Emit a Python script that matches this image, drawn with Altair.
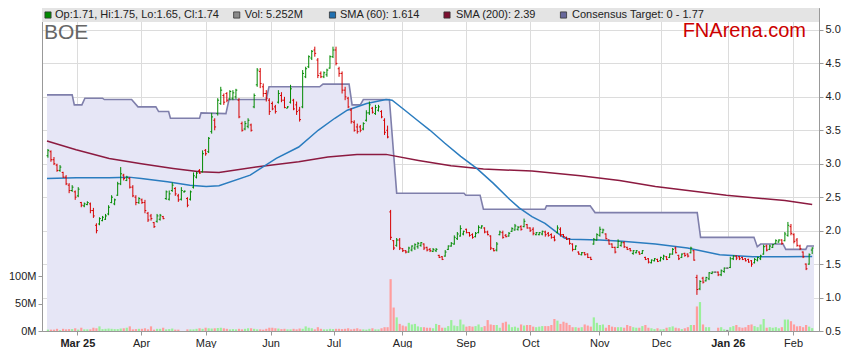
import altair as alt
import pandas as pd

# ---------------- data ----------------
OPEN = [
3.12, 3.18, 3.06, 2.98, 2.90, 2.87, 2.80, 2.68, 2.60, 2.58,
2.52, 2.42, 2.37, 2.39, 2.40, 2.30, 2.08, 2.10, 2.15, 2.17,
2.25, 2.42, 2.40, 2.53, 2.70, 2.83, 2.75, 2.78, 2.65, 2.50,
2.42, 2.46, 2.42, 2.26, 2.22, 2.12, 2.14, 2.17, 2.21, 2.48,
2.47, 2.60, 2.63, 2.52, 2.47, 2.58, 2.48, 2.47, 2.65, 2.80,
2.90, 2.88, 3.20, 3.18, 3.48, 3.65, 3.75, 3.90, 4.02, 4.05,
3.97, 3.98, 4.00, 3.95, 3.60, 3.52, 3.56, 3.58, 3.85, 4.18,
4.38, 4.15, 4.05, 3.95, 3.90, 3.85, 3.92, 4.02, 3.95, 3.83,
3.92, 3.95, 3.88, 3.80, 3.85, 4.30, 4.45, 4.58, 4.70, 4.55,
4.35, 4.30, 4.33, 4.43, 4.60, 4.70, 4.42, 4.35, 4.10, 3.98,
3.80, 3.62, 3.55, 3.55, 3.52, 3.65, 3.76, 3.83, 3.75, 3.80,
3.78, 3.65, 3.50, 2.28, 1.85, 1.78, 1.86, 1.73, 1.70, 1.68,
1.71, 1.74, 1.76, 1.78, 1.80, 1.75, 1.72, 1.69, 1.70, 1.63,
1.61, 1.62, 1.72, 1.77, 1.80, 1.88, 1.92, 1.95, 2.02, 1.97,
1.94, 1.91, 1.97, 2.04, 2.04, 1.98, 1.92, 1.73, 1.71, 1.94,
1.97, 1.93, 1.92, 1.99, 2.01, 2.02, 2.06, 2.06, 2.09, 2.04,
2.02, 1.94, 1.94, 1.95, 1.98, 1.96, 1.94, 1.90, 1.97, 2.02,
1.94, 1.90, 1.88, 1.80, 1.72, 1.68, 1.64, 1.67, 1.65, 1.60,
1.80, 1.86, 1.93, 1.97, 1.95, 1.86, 1.80, 1.75, 1.75, 1.78,
1.82, 1.75, 1.73, 1.66, 1.67, 1.68, 1.66, 1.60, 1.58, 1.52,
1.55, 1.57, 1.55, 1.58, 1.61, 1.60, 1.65, 1.74, 1.63, 1.60,
1.66, 1.65, 1.67, 1.70, 1.30, 1.13, 1.29, 1.25, 1.28, 1.36,
1.38, 1.38, 1.34, 1.39, 1.44, 1.45, 1.58, 1.62, 1.61, 1.60,
1.58, 1.57, 1.55, 1.52, 1.56, 1.58, 1.65, 1.77, 1.72, 1.75,
1.81, 1.83, 1.86, 1.85, 1.93, 2.06, 1.94, 1.86, 1.77, 1.68,
1.50, 1.50, 1.71]

HIGH = [
3.22, 3.20, 3.10, 3.00, 2.98, 2.88, 2.83, 2.71, 2.68, 2.60,
2.65, 2.43, 2.42, 2.44, 2.42, 2.34, 2.11, 2.20, 2.22, 2.25,
2.38, 2.53, 2.48, 2.73, 2.95, 2.85, 2.82, 2.80, 2.68, 2.53,
2.50, 2.48, 2.46, 2.28, 2.25, 2.13, 2.25, 2.25, 2.22, 2.60,
2.60, 2.72, 2.65, 2.55, 2.65, 2.60, 2.50, 2.60, 2.87, 2.88,
2.92, 3.20, 3.22, 3.40, 3.76, 3.68, 3.98, 4.15, 4.05, 4.07,
4.10, 4.10, 4.12, 3.98, 3.63, 3.64, 3.68, 3.60, 4.05, 4.43,
4.43, 4.20, 4.10, 3.98, 3.93, 3.88, 4.10, 4.07, 4.00, 3.86,
4.18, 3.97, 3.93, 3.85, 4.40, 4.45, 4.62, 4.70, 4.75, 4.58,
4.38, 4.38, 4.42, 4.62, 4.75, 4.75, 4.45, 4.38, 4.15, 4.00,
3.83, 3.65, 3.60, 3.58, 3.62, 3.80, 3.93, 3.85, 3.88, 3.88,
3.80, 3.68, 3.57, 2.31, 1.86, 1.89, 1.89, 1.74, 1.71, 1.76,
1.78, 1.81, 1.83, 1.83, 1.81, 1.76, 1.74, 1.74, 1.74, 1.64,
1.62, 1.71, 1.78, 1.83, 1.93, 1.98, 2.08, 2.00, 2.03, 1.98,
1.96, 1.98, 2.08, 2.08, 2.05, 2.00, 1.93, 1.74, 1.83, 2.00,
2.00, 1.95, 1.98, 2.05, 2.10, 2.07, 2.08, 2.18, 2.10, 2.05,
2.05, 1.98, 1.98, 2.00, 2.00, 1.98, 1.96, 1.93, 2.08, 2.05,
1.95, 1.91, 1.89, 1.81, 1.78, 1.69, 1.68, 1.68, 1.66, 1.61,
1.89, 1.96, 2.06, 2.03, 1.96, 1.87, 1.81, 1.76, 1.87, 1.84,
1.84, 1.76, 1.74, 1.71, 1.71, 1.69, 1.71, 1.61, 1.59, 1.57,
1.59, 1.58, 1.61, 1.64, 1.62, 1.66, 1.74, 1.76, 1.64, 1.66,
1.67, 1.66, 1.76, 1.71, 1.34, 1.26, 1.31, 1.31, 1.38, 1.39,
1.39, 1.39, 1.42, 1.45, 1.45, 1.61, 1.63, 1.63, 1.62, 1.61,
1.59, 1.58, 1.56, 1.59, 1.61, 1.64, 1.79, 1.79, 1.79, 1.80,
1.87, 1.87, 1.87, 1.98, 2.13, 2.10, 1.96, 1.89, 1.79, 1.69,
1.51, 1.66, 1.75]

LOW = [
3.09, 3.03, 2.98, 2.88, 2.88, 2.79, 2.68, 2.56, 2.58, 2.46,
2.50, 2.35, 2.35, 2.38, 2.26, 2.19, 1.96, 2.08, 2.14, 2.16,
2.23, 2.41, 2.38, 2.52, 2.68, 2.75, 2.74, 2.63, 2.50, 2.38,
2.40, 2.40, 2.26, 2.13, 2.15, 2.04, 2.12, 2.15, 2.17, 2.46,
2.45, 2.58, 2.52, 2.43, 2.45, 2.57, 2.35, 2.45, 2.63, 2.78,
2.85, 2.87, 3.12, 3.16, 3.45, 3.50, 3.72, 3.88, 3.88, 3.92,
3.95, 3.95, 3.97, 3.68, 3.48, 3.50, 3.53, 3.48, 3.83, 4.15,
4.13, 4.00, 3.93, 3.73, 3.80, 3.75, 3.90, 3.92, 3.83, 3.83,
3.90, 3.80, 3.73, 3.63, 3.83, 4.28, 4.43, 4.55, 4.60, 4.28,
4.28, 4.28, 4.30, 4.42, 4.58, 4.47, 4.30, 4.05, 3.95, 3.83,
3.60, 3.48, 3.45, 3.47, 3.50, 3.63, 3.73, 3.75, 3.73, 3.78,
3.68, 3.43, 3.38, 1.86, 1.71, 1.76, 1.71, 1.68, 1.66, 1.67,
1.69, 1.71, 1.73, 1.76, 1.71, 1.69, 1.68, 1.68, 1.68, 1.59,
1.56, 1.61, 1.71, 1.76, 1.79, 1.86, 1.91, 1.93, 1.96, 1.91,
1.88, 1.90, 1.96, 2.03, 1.96, 1.93, 1.71, 1.69, 1.69, 1.93,
1.88, 1.90, 1.91, 1.98, 2.00, 2.00, 2.00, 2.05, 2.03, 1.98,
1.93, 1.93, 1.93, 1.93, 1.91, 1.91, 1.88, 1.84, 1.96, 1.91,
1.90, 1.86, 1.79, 1.69, 1.71, 1.64, 1.63, 1.63, 1.59, 1.56,
1.79, 1.85, 1.91, 1.96, 1.87, 1.79, 1.74, 1.66, 1.74, 1.76,
1.74, 1.71, 1.69, 1.64, 1.66, 1.64, 1.65, 1.56, 1.51, 1.51,
1.54, 1.53, 1.54, 1.56, 1.56, 1.59, 1.64, 1.66, 1.56, 1.59,
1.61, 1.60, 1.66, 1.55, 1.04, 1.11, 1.21, 1.24, 1.26, 1.35,
1.37, 1.32, 1.32, 1.37, 1.43, 1.44, 1.56, 1.56, 1.56, 1.56,
1.54, 1.52, 1.46, 1.51, 1.54, 1.56, 1.64, 1.69, 1.71, 1.74,
1.80, 1.82, 1.79, 1.84, 1.91, 1.93, 1.81, 1.76, 1.71, 1.59,
1.41, 1.49, 1.65]

CLOSE = [
3.20, 3.06, 3.00, 2.90, 2.95, 2.80, 2.70, 2.60, 2.65, 2.50,
2.62, 2.38, 2.40, 2.42, 2.30, 2.22, 2.00, 2.18, 2.20, 2.22,
2.35, 2.50, 2.46, 2.70, 2.85, 2.78, 2.80, 2.65, 2.52, 2.42,
2.48, 2.42, 2.30, 2.16, 2.18, 2.06, 2.22, 2.23, 2.18, 2.58,
2.55, 2.68, 2.55, 2.46, 2.60, 2.59, 2.38, 2.58, 2.82, 2.86,
2.86, 3.15, 3.15, 3.38, 3.70, 3.55, 3.95, 4.10, 3.92, 3.95,
4.08, 4.06, 4.10, 3.70, 3.50, 3.60, 3.65, 3.50, 4.02, 4.40,
4.20, 4.05, 3.98, 3.78, 3.82, 3.78, 4.05, 3.95, 3.84, 3.85,
4.12, 3.82, 3.78, 3.66, 4.35, 4.42, 4.60, 4.68, 4.65, 4.32,
4.30, 4.36, 4.40, 4.60, 4.70, 4.50, 4.35, 4.10, 4.00, 3.85,
3.63, 3.50, 3.48, 3.50, 3.60, 3.76, 3.88, 3.77, 3.84, 3.85,
3.70, 3.47, 3.40, 1.90, 1.74, 1.86, 1.74, 1.70, 1.68, 1.74,
1.77, 1.79, 1.81, 1.82, 1.74, 1.71, 1.70, 1.72, 1.72, 1.60,
1.57, 1.68, 1.77, 1.81, 1.90, 1.95, 2.03, 1.99, 1.97, 1.93,
1.90, 1.96, 2.05, 2.07, 1.98, 1.94, 1.74, 1.70, 1.80, 1.98,
1.90, 1.91, 1.96, 2.03, 2.07, 2.05, 2.02, 2.14, 2.04, 2.00,
1.96, 1.97, 1.97, 1.99, 1.94, 1.93, 1.90, 1.86, 2.04, 1.94,
1.91, 1.87, 1.81, 1.72, 1.77, 1.65, 1.67, 1.64, 1.60, 1.57,
1.87, 1.94, 2.02, 2.01, 1.88, 1.80, 1.75, 1.68, 1.84, 1.82,
1.76, 1.72, 1.70, 1.70, 1.70, 1.65, 1.70, 1.57, 1.53, 1.56,
1.58, 1.54, 1.60, 1.62, 1.57, 1.65, 1.72, 1.67, 1.58, 1.65,
1.63, 1.62, 1.74, 1.56, 1.12, 1.24, 1.23, 1.30, 1.37, 1.38,
1.38, 1.34, 1.40, 1.44, 1.44, 1.58, 1.62, 1.59, 1.58, 1.57,
1.55, 1.53, 1.50, 1.57, 1.60, 1.62, 1.76, 1.71, 1.77, 1.79,
1.85, 1.86, 1.81, 1.95, 2.08, 1.96, 1.84, 1.78, 1.73, 1.61,
1.43, 1.64, 1.74]

VOLUME_M = [
2.5, 2.5, 2.5, 4, 1.5, 4, 3, 3.5, 3.5, 5,
2.5, 6, 3, 3, 3, 6, 5, 8.5, 3.5, 4,
4.5, 4, 3.5, 3.5, 4.5, 5, 6, 8.5, 3, 3.5,
4, 4, 5, 3, 8.5, 2.5, 4, 4, 6, 3,
3.5, 4.5, 2.5, 2.5, 0, 0, 3, 3, 3, 4,
5, 4, 6, 5, 4.5, 5, 5.5, 6, 5, 4,
3, 3.5, 3, 4, 3, 4, 5, 5, 4, 3,
3, 2.5, 4, 6, 6, 5, 4.5, 3.5, 4, 3,
3, 4, 3, 4.5, 4, 8.5, 6, 5, 3, 7,
4, 3, 3, 4, 3.5, 4, 4, 3.5, 4, 5,
3, 4, 5, 3, 3, 2.5, 4, 5, 3, 3,
5, 7, 7, 95, 43, 25, 13, 10, 8.5, 15,
12, 13, 8.5, 7, 7, 6, 6, 5, 13, 11,
6, 6, 9, 20, 10, 9, 21, 12, 8, 9,
8, 9, 12, 7, 9, 20, 12, 11, 11, 6,
15, 17, 12, 7, 8, 6, 12, 10, 11, 11,
8, 7, 8, 9, 9, 9, 11, 22, 19, 13,
17, 15, 11, 7, 7, 6, 7, 12, 10, 8,
25, 15, 11, 12, 6, 11, 8, 7, 7, 7,
6, 11, 9, 7, 6, 6, 9, 11, 6, 5,
3.5, 5, 3, 3.5, 6, 7, 8.5, 6, 5, 3.5,
5, 7, 11, 11, 45, 53, 12, 7, 7, 0,
0, 6, 7, 3, 2, 7, 9, 11, 7, 6,
7, 11, 12, 9, 7, 12, 22, 6, 7, 6,
7, 5, 7, 21, 21, 18, 12, 8.5, 9, 7,
11, 8, 5.252]

SMA60_IDX = [-0.3, 9.3, 20.2, 26.6, 30.8, 39.4, 46.8, 52.2, 56.4, 66.7, 75.3, 82.7,
             89.1, 94.6, 98.7, 105.1, 111.5, 113.5, 117.7, 121.8, 126.0, 130.8, 136.1,
             141.4, 146.8, 152.2, 155.4, 159.6, 163.9, 168.2, 170.3, 172.4, 182.0,
             189.4, 200.3, 210.9, 221.5, 232.4, 243.0, 252.0]
SMA60_VAL = [2.78, 2.79, 2.79, 2.80, 2.78, 2.73, 2.68, 2.66, 2.67, 2.83, 3.08, 3.25,
             3.50, 3.68, 3.80, 3.90, 3.96, 3.95, 3.80, 3.65, 3.50, 3.31, 3.11,
             2.93, 2.71, 2.47, 2.34, 2.21, 2.11, 1.96, 1.89, 1.87, 1.86,
             1.84, 1.80, 1.74, 1.64, 1.61, 1.61, 1.614]

SMA200_IDX = [-0.3, 9.3, 20.2, 30.8, 41.3, 50.0, 56.4, 69.9, 82.7, 92.3, 101.9, 111.5,
              122.2, 132.9, 143.6, 159.6, 175.6, 188.5, 200.3, 223.7, 243.0, 252.0]
SMA200_VAL = [3.34, 3.21, 3.08, 3.00, 2.93, 2.88, 2.87, 2.96, 3.03, 3.10, 3.14, 3.14,
              3.05, 2.97, 2.92, 2.89, 2.82, 2.75, 2.66, 2.53, 2.45, 2.39]

CONS_IDX = [-0.3, 8.0, 8.7, 11.2, 12.2, 18.0, 18.6, 27.6, 29.7, 35.6, 36.5, 39.8,
            40.4, 50.0, 50.5, 58.7, 59.7, 72.0, 72.9, 89.6, 90.7, 99.3, 100.3, 103.0,
            104.0, 112.6, 115.0, 137.2, 137.8, 142.5, 143.6, 163.9, 164.4, 178.8,
            180.4, 214.1, 215.2, 232.8, 233.9, 235.0, 242.4, 243.3, 249.9, 250.4, 252.6]
CONS_VAL = [4.03, 4.03, 3.88, 3.88, 3.98, 3.98, 3.96, 3.96, 3.85, 3.85, 3.78, 3.78,
            3.68, 3.68, 3.76, 3.75, 3.96, 3.96, 4.15, 4.15, 4.19, 4.19, 3.88, 3.88,
            3.96, 3.96, 2.56, 2.56, 2.53, 2.53, 2.32, 2.32, 2.37, 2.37,
            2.27, 2.27, 1.90, 1.90, 1.76, 1.80, 1.80, 1.72, 1.72, 1.77, 1.77]

MONTH_POS = [9.7, 30.7, 52.0, 73.4, 94.2, 116.8, 137.7, 159.1, 181.8, 202.2, 224.2, 245.7]
MONTH_LABELS = ["Mar 25", "Apr", "May", "Jun", "Jul", "Aug", "Sep", "Oct", "Nov",
                "Dec", "Jan 26", "Feb"]
PRICE_TICKS = [0.5, 1.0, 1.5, 2.0, 2.5, 3.0, 3.5, 4.0, 4.5, 5.0]
VOL_TICKS = [0, 50, 100]

# ---------------- layout / style ----------------
FONT = "Liberation Sans"
W, H = 777, 323
L_EST = 44          # page x of plot's left edge (for header placement)
X_DOMAIN = [-0.3, 252.6]
P_DOMAIN = [0.5, 5.328]
V_DOMAIN = [0, 592]

N = len(CLOSE)
dirs = ["up" if c > o else ("down" if c < o else "flat") for o, c in zip(OPEN, CLOSE)]
bars = pd.DataFrame({"i": list(range(N)), "open": OPEN, "high": HIGH, "low": LOW,
                     "close": CLOSE, "vol": VOLUME_M, "dir": dirs})
sma60 = pd.DataFrame({"i": SMA60_IDX, "v": SMA60_VAL})
sma200 = pd.DataFrame({"i": SMA200_IDX, "v": SMA200_VAL})
cons = pd.DataFrame({"i": CONS_IDX, "v": CONS_VAL})
ONE = pd.DataFrame({"k": [0]})

lab_arr = "[" + ",".join("'%s'" % s for s in MONTH_LABELS) + "]"
pos_arr = "[" + ",".join(repr(p) for p in MONTH_POS) + "]"
bold_test = " || ".join("datum.value == %r" % p for p, s in zip(MONTH_POS, MONTH_LABELS) if " " in s)

XAXIS = alt.Axis(values=MONTH_POS, labelExpr=f"{lab_arr}[indexof({pos_arr}, datum.value)]",
                 title=None, grid=True, gridColor="#dcdcdc", gridWidth=1,
                 domainColor="#999999", tickColor="#999999", tickSize=4, labelPadding=2,
                 labelFont=FONT, labelFontSize=11, labelColor="#222222",
                 labelFontWeight={"condition": {"test": bold_test, "value": "bold"}, "value": "normal"})
XS = alt.Scale(domain=X_DOMAIN, nice=False, zero=False)
PS = alt.Scale(domain=P_DOMAIN, nice=False, zero=False)
VS = alt.Scale(domain=V_DOMAIN, nice=False)
PAXIS = alt.Axis(orient="right", values=PRICE_TICKS, format=".1f", title=None, grid=True,
                 gridColor="#dcdcdc", domainColor="#999999", tickColor="#999999", tickSize=4,
                 labelPadding=2, labelFont=FONT, labelFontSize=11, labelColor="#222222")
VAXIS = alt.Axis(orient="left", values=VOL_TICKS, labelExpr="datum.value + 'M'", title=None,
                 grid=False, domainColor="#999999", tickColor="#999999", tickSize=4,
                 labelPadding=2, labelFont=FONT, labelFontSize=11, labelColor="#222222")


def X(field):
    return alt.X(field, type="quantitative", scale=XS, axis=XAXIS)


def YP(field, axis=None):
    return alt.Y(field, type="quantitative", scale=PS, axis=axis)


PRICE_COL = alt.Color("dir:N", scale=alt.Scale(domain=["up", "down", "flat"],
                                                range=["#008a00", "#d60000", "#555555"]), legend=None)
VOL_COL = alt.Color("dir:N", scale=alt.Scale(domain=["up", "down", "flat"],
                                              range=["#9af09a", "#ff9d9d", "#8a8a8a"]), legend=None)

cons_area = alt.Chart(cons).mark_area(color="#e6e6f6", clip=True).encode(
    x=X("i"), y=YP("v"), y2=alt.datum(0.5))
cons_line = alt.Chart(cons).mark_line(color="#7f7fab", strokeWidth=1.6, clip=True).encode(
    x=X("i"), y=YP("v"))
vol = alt.Chart(bars).mark_bar(size=2.2, clip=True).encode(
    x=X("i"), y=alt.Y("vol:Q", scale=VS, axis=VAXIS), color=VOL_COL)
l200 = alt.Chart(sma200).mark_line(color="#8c1a40", strokeWidth=1.5, clip=True).encode(
    x=X("i"), y=YP("v"))
l60 = alt.Chart(sma60).mark_line(color="#2a7cbf", strokeWidth=1.5, clip=True).encode(
    x=X("i"), y=YP("v"))
hl = alt.Chart(bars).mark_rule(strokeWidth=1).encode(
    x=X("i"), y=YP("low", PAXIS), y2="high", color=PRICE_COL)
op_t = alt.Chart(bars).transform_calculate(xo="datum.i - 0.45").mark_rule(strokeWidth=1).encode(
    x=X("xo"), x2="i", y=YP("open"), color=PRICE_COL)
cl_t = alt.Chart(bars).transform_calculate(xc="datum.i + 0.45").mark_rule(strokeWidth=1).encode(
    x=X("i"), x2="xc", y=YP("close"), color=PRICE_COL)


def txt(text, x, y, size=11, color="#222222", align="left"):
    return alt.Chart(ONE).mark_text(text=text, align=align, baseline="middle", font=FONT,
                                    fontSize=size, color=color).encode(
        x=alt.value(x), y=alt.value(y))


def sq(x, y, fill):
    return alt.Chart(ONE).mark_square(size=38, fill=fill, stroke="#333333", strokeWidth=0.8,
                                      opacity=1, filled=True).encode(x=alt.value(x), y=alt.value(y))


band = alt.Chart(ONE).mark_rect(color="#e4e4e4").encode(
    x=alt.value(0), x2=alt.value(W), y=alt.value(0), y2=alt.value(14))

BY = 7
hdr = [band,
       sq(50 - L_EST, BY, "#008a00"),
       txt(f"Op:{OPEN[-1]:.2f}, Hi:{HIGH[-1]:.2f}, Lo:{LOW[-1]:.2f}, Cl:{CLOSE[-1]:.2f}", 57 - L_EST, BY),
       sq(238.7 - L_EST, BY, "#8a8a8a"),
       txt(f"Vol: {VOLUME_M[-1]:.3f}M", 246.7 - L_EST, BY),
       sq(334.5 - L_EST, BY, "#1f6fb0"),
       txt(f"SMA (60): {SMA60_VAL[-1]:.3f}", 342 - L_EST, BY),
       sq(449 - L_EST, BY, "#7d1031"),
       txt(f"SMA (200): {SMA200_VAL[-1]:.2f}", 458 - L_EST, BY),
       sq(565.5 - L_EST, BY, "#67679b"),
       txt(f"Consensus Target: 0 - {CONS_VAL[-1]:.2f}", 574 - L_EST, BY),
       txt("BOE", 2, 25, size=21, color="#666666"),
       txt("FNArena.com", 808 - L_EST, 23, size=20, color="#cc0000", align="right")]

chart = alt.layer(cons_area, cons_line, vol, l200, l60, hl, op_t, cl_t, *hdr).resolve_scale(
    y="independent", color="independent").properties(
    width=W, height=H, padding=0, background="white").configure_view(
    stroke="#999999", strokeWidth=1)

chart.save("out.html", embed_options={"renderer": "svg", "actions": False})
